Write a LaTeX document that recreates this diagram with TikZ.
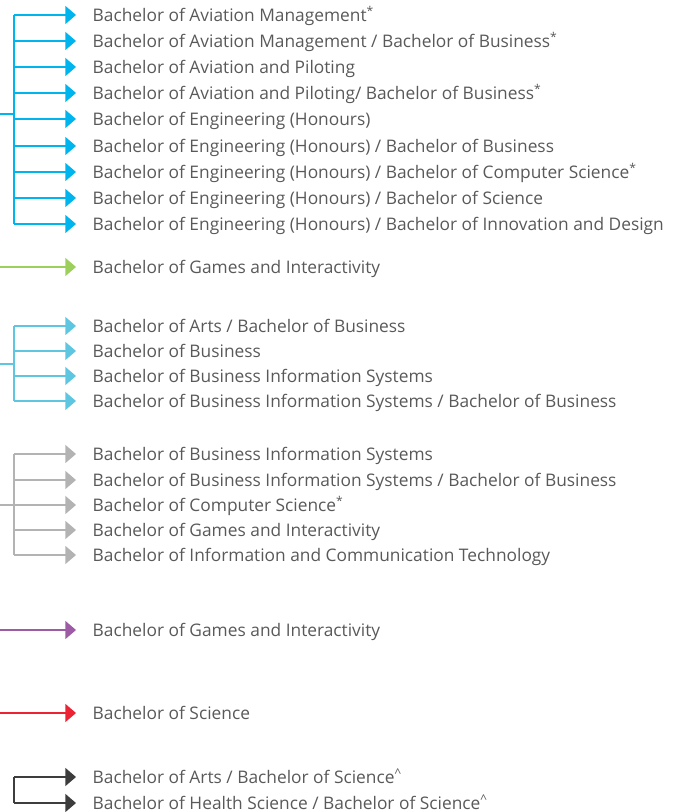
\documentclass[tikz,border=0pt]{standalone}
\usepackage{fontspec}
\setmainfont{Open Sans}
\usetikzlibrary{arrows.meta}

\definecolor{aviation}{HTML}{00B4EE}
\definecolor{games}{HTML}{9CCF5C}
\definecolor{business}{HTML}{5EC6E0}
\definecolor{infotech}{HTML}{B3B3B3}
\definecolor{design}{HTML}{9D5AA5}
\definecolor{science}{HTML}{EC2235}
\definecolor{health}{HTML}{3D3D3D}
\definecolor{label}{HTML}{595959}

\begin{document}
\begin{tikzpicture}[x=0.75pt, y=-0.75pt, line width=1.1pt,
    >={Triangle[length=8pt, width=13.5pt]},
    every node/.style={anchor=west, inner sep=0pt, text height=11pt,
    text depth=1.4pt, text=label, font=\fontsize{13}{15}\selectfont}]

  \tikzstyle{prog}=[->, shorten >=12pt]

  \useasboundingbox (0,0) rectangle (676,812);

  % aviation and engineering
  \node (AVM)  at (92,15)  {Bachelor of Aviation Management\textsuperscript{*}};
  \node (AVMB) at (92,41)  {Bachelor of Aviation Management / Bachelor of Business\textsuperscript{*}};
  \node (AVP)  at (92,67)  {Bachelor of Aviation and Piloting};
  \node (AVPB) at (92,93)  {Bachelor of Aviation and Piloting/ Bachelor of Business\textsuperscript{*}};
  \node (ENG)  at (92,119) {Bachelor of Engineering (Honours)};
  \node (ENGB) at (92,146) {Bachelor of Engineering (Honours) / Bachelor of Business};
  \node (ENGC) at (92,172) {Bachelor of Engineering (Honours) / Bachelor of Computer Science\textsuperscript{*}};
  \node (ENGS) at (92,198) {Bachelor of Engineering (Honours) / Bachelor of Science};
  \node (ENGD) at (92,224) {Bachelor of Engineering (Honours) / Bachelor of Innovation and Design};

  % games
  \node (GAME) at (92,267) {Bachelor of Games and Interactivity};

  % business
  \node (BAB)  at (92,326) {Bachelor of Arts / Bachelor of Business};
  \node (BUS)  at (92,351) {Bachelor of Business};
  \node (BIS)  at (92,376) {Bachelor of Business Information Systems};
  \node (BISB) at (92,401) {Bachelor of Business Information Systems / Bachelor of Business};

  % information technology
  \node (ITIS)  at (92,454) {Bachelor of Business Information Systems};
  \node (ITISB) at (92,480) {Bachelor of Business Information Systems / Bachelor of Business};
  \node (ITCS)  at (92,505) {Bachelor of Computer Science\textsuperscript{*}};
  \node (ITGI)  at (92,530) {Bachelor of Games and Interactivity};
  \node (ITICT) at (92,555) {Bachelor of Information and Communication Technology};

  % design, science, health
  \node (DGI)  at (92,630) {Bachelor of Games and Interactivity};
  \node (SCI)  at (92,713) {Bachelor of Science};
  \node (HAS)  at (92,777) {Bachelor of Arts / Bachelor of Science\textsuperscript{\textasciicircum}};
  \node (HHS)  at (92,803) {Bachelor of Health Science / Bachelor of Science\textsuperscript{\textasciicircum}};

  \coordinate (avIn)  at (0,114);
  \coordinate (avBus) at (14,114);
  \coordinate (gmIn)  at (0,267);
  \coordinate (buIn)  at (0,364);
  \coordinate (buBus) at (14,364);
  \coordinate (itIn)  at (0,505);
  \coordinate (itBus) at (14,505);
  \coordinate (dsIn)  at (0,630);
  \coordinate (scIn)  at (0,713);
  \coordinate (hsBus) at (14,790);

  \draw[aviation] (avIn) -- (avBus) (AVM -| avBus) -- (ENGD -| avBus);
  \path[prog, aviation]
  (AVM -| avBus) edge (AVM)
  (AVMB -| avBus) edge (AVMB)
  (AVP -| avBus) edge (AVP)
  (AVPB -| avBus) edge (AVPB)
  (ENG -| avBus) edge (ENG)
  (ENGB -| avBus) edge (ENGB)
  (ENGC -| avBus) edge (ENGC)
  (ENGS -| avBus) edge (ENGS)
  (ENGD -| avBus) edge (ENGD);

  \path[prog, games] (gmIn) edge (GAME);

  \draw[business] (buIn) -- (buBus) (BAB -| buBus) -- (BISB -| buBus);
  \path[prog, business]
  (BAB -| buBus) edge (BAB)
  (BUS -| buBus) edge (BUS)
  (BIS -| buBus) edge (BIS)
  (BISB -| buBus) edge (BISB);

  \draw[infotech] (itIn) -- (itBus) (ITIS -| itBus) -- (ITICT -| itBus);
  \path[prog, infotech]
  (ITIS -| itBus) edge (ITIS)
  (ITISB -| itBus) edge (ITISB)
  (ITCS -| itBus) edge (ITCS)
  (ITGI -| itBus) edge (ITGI)
  (ITICT -| itBus) edge (ITICT);

  \path[prog, design] (dsIn) edge (DGI);
  \path[prog, science] (scIn) edge (SCI);

  \draw[health] (HAS -| hsBus) -- (HHS -| hsBus);
  \path[prog, health]
  (HAS -| hsBus) edge (HAS)
  (HHS -| hsBus) edge (HHS);
\end{tikzpicture}
\end{document}
